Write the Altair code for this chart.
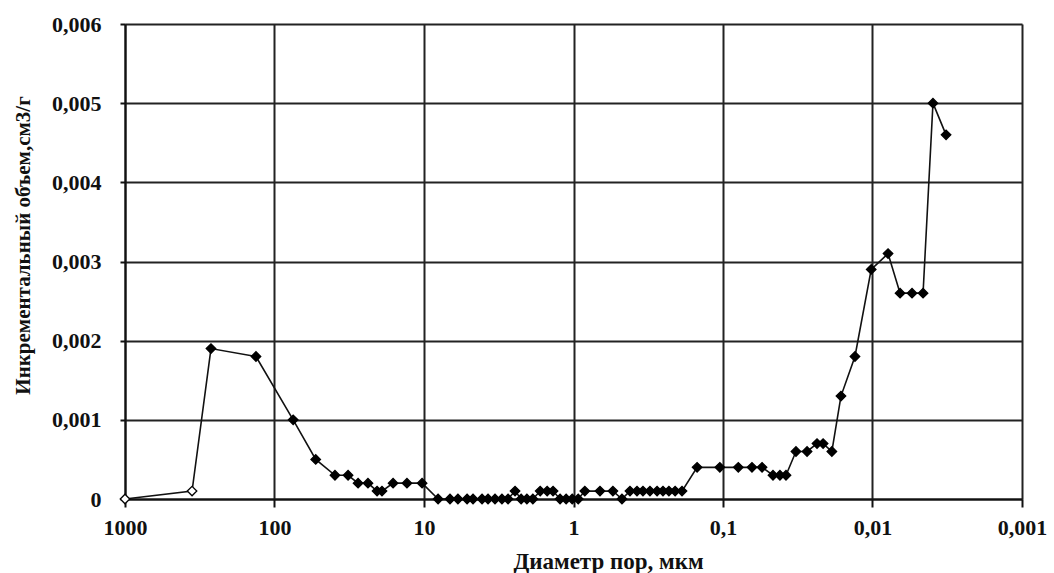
import altair as alt
import pandas as pd

diameter = [1000, 356, 266, 133, 75, 53,
            39.4, 32.2, 27.6, 23.7, 20.6, 19.1, 16.1, 13.0, 10.3,
            8.05, 6.70, 5.93, 5.15, 4.70, 4.09, 3.73, 3.35, 3.01, 2.74,
            2.46, 2.24, 2.05, 1.87, 1.67, 1.50, 1.37, 1.23, 1.12, 1.02, 0.93,
            0.84, 0.665, 0.545, 0.474,
            0.419, 0.376, 0.343, 0.308, 0.276, 0.252, 0.230, 0.209, 0.188,
            0.149, 0.105, 0.079, 0.064, 0.0548,
            0.0463, 0.0416, 0.0379,
            0.0325, 0.0274, 0.0235, 0.0214, 0.0187,
            0.01625, 0.0131, 0.0102, 0.00787, 0.00654, 0.00544, 0.00459, 0.00394, 0.00322]

volume = [0, 0.0001, 0.0019, 0.0018, 0.001, 0.0005,
          0.0003, 0.0003, 0.0002, 0.0002, 0.0001, 0.0001, 0.0002, 0.0002, 0.0002,
          0, 0, 0, 0, 0, 0, 0, 0, 0, 0,
          0.0001, 0, 0, 0, 0.0001, 0.0001, 0.0001, 0, 0, 0, 0,
          0.0001, 0.0001, 0.0001, 0,
          0.0001, 0.0001, 0.0001, 0.0001, 0.0001, 0.0001, 0.0001, 0.0001, 0.0001,
          0.0004, 0.0004, 0.0004, 0.0004, 0.0004,
          0.0003, 0.0003, 0.0003,
          0.0006, 0.0006, 0.0007, 0.0007, 0.0006,
          0.0013, 0.0018, 0.0029, 0.0031, 0.0026, 0.0026, 0.0026, 0.005, 0.0046]

x_ticks = [1000, 100, 10, 1, 0.1, 0.01, 0.001]
y_ticks = [0, 0.001, 0.002, 0.003, 0.004, 0.005, 0.006]

df = pd.DataFrame({"d": diameter, "v": volume, "i": list(range(len(diameter)))})

FONT = "Liberation Serif"

x_enc = alt.X(
    "d:Q",
    scale=alt.Scale(type="log", domain=[0.001, 1000], reverse=True, nice=False),
    axis=alt.Axis(
        values=x_ticks,
        labelExpr="replace(format(datum.value, ''), '.', ',')",
        title="Диаметр пор, мкм",
        titleFont=FONT, titleFontSize=23, titleFontWeight="bold", titleColor="#111",
        titleX=483, titleY=69, titleAlign="center", titleBaseline="alphabetic",
        labelFont=FONT, labelFontSize=22, labelFontWeight="bold", labelColor="#111",
        labelPadding=10, tickSize=8, tickColor="#111", tickWidth=2,
        domainColor="#111", domainWidth=2,
        gridColor="#222", gridWidth=2, labelFlush=False, labelOverlap=False,
    ),
)
y_enc = alt.Y(
    "v:Q",
    scale=alt.Scale(domain=[0, 0.006], nice=False),
    axis=alt.Axis(
        values=y_ticks,
        labelExpr="datum.value == 0 ? '0' : replace(format(datum.value, '.3f'), '.', ',')",
        title="Инкрементальный объем,см3/г",
        titleFont=FONT, titleFontSize=21, titleFontWeight="bold", titleColor="#111",
        titleX=-102, titleY=221, titleAngle=-90, titleAlign="center", titleBaseline="middle",
        labelFont=FONT, labelFontSize=22, labelFontWeight="bold", labelColor="#111",
        labelPadding=19, tickSize=5, tickColor="#111", tickWidth=2,
        domainColor="#111", domainWidth=2,
        gridColor="#222", gridWidth=2, labelOverlap=False,
    ),
)

base = alt.Chart(df)

line = base.mark_line(color="#111", strokeWidth=1.6).encode(x=x_enc, y=y_enc, order="i:Q")

points = base.mark_point(shape="diamond", size=90, filled=True, opacity=1, strokeWidth=1.3).encode(
    x="d:Q",
    y="v:Q",
    fill=alt.condition("datum.d > 300", alt.value("white"), alt.value("#000")),
    stroke=alt.value("#000"),
)

chart = alt.layer(line, points).properties(
    width=897,
    height=475,
    autosize="none",
    padding={"left": 125, "top": 24, "right": 32, "bottom": 74},
).configure_view(stroke="#111", strokeWidth=2).configure(background="white")

chart.save("out.html", embed_options={"renderer": "svg", "actions": False})
